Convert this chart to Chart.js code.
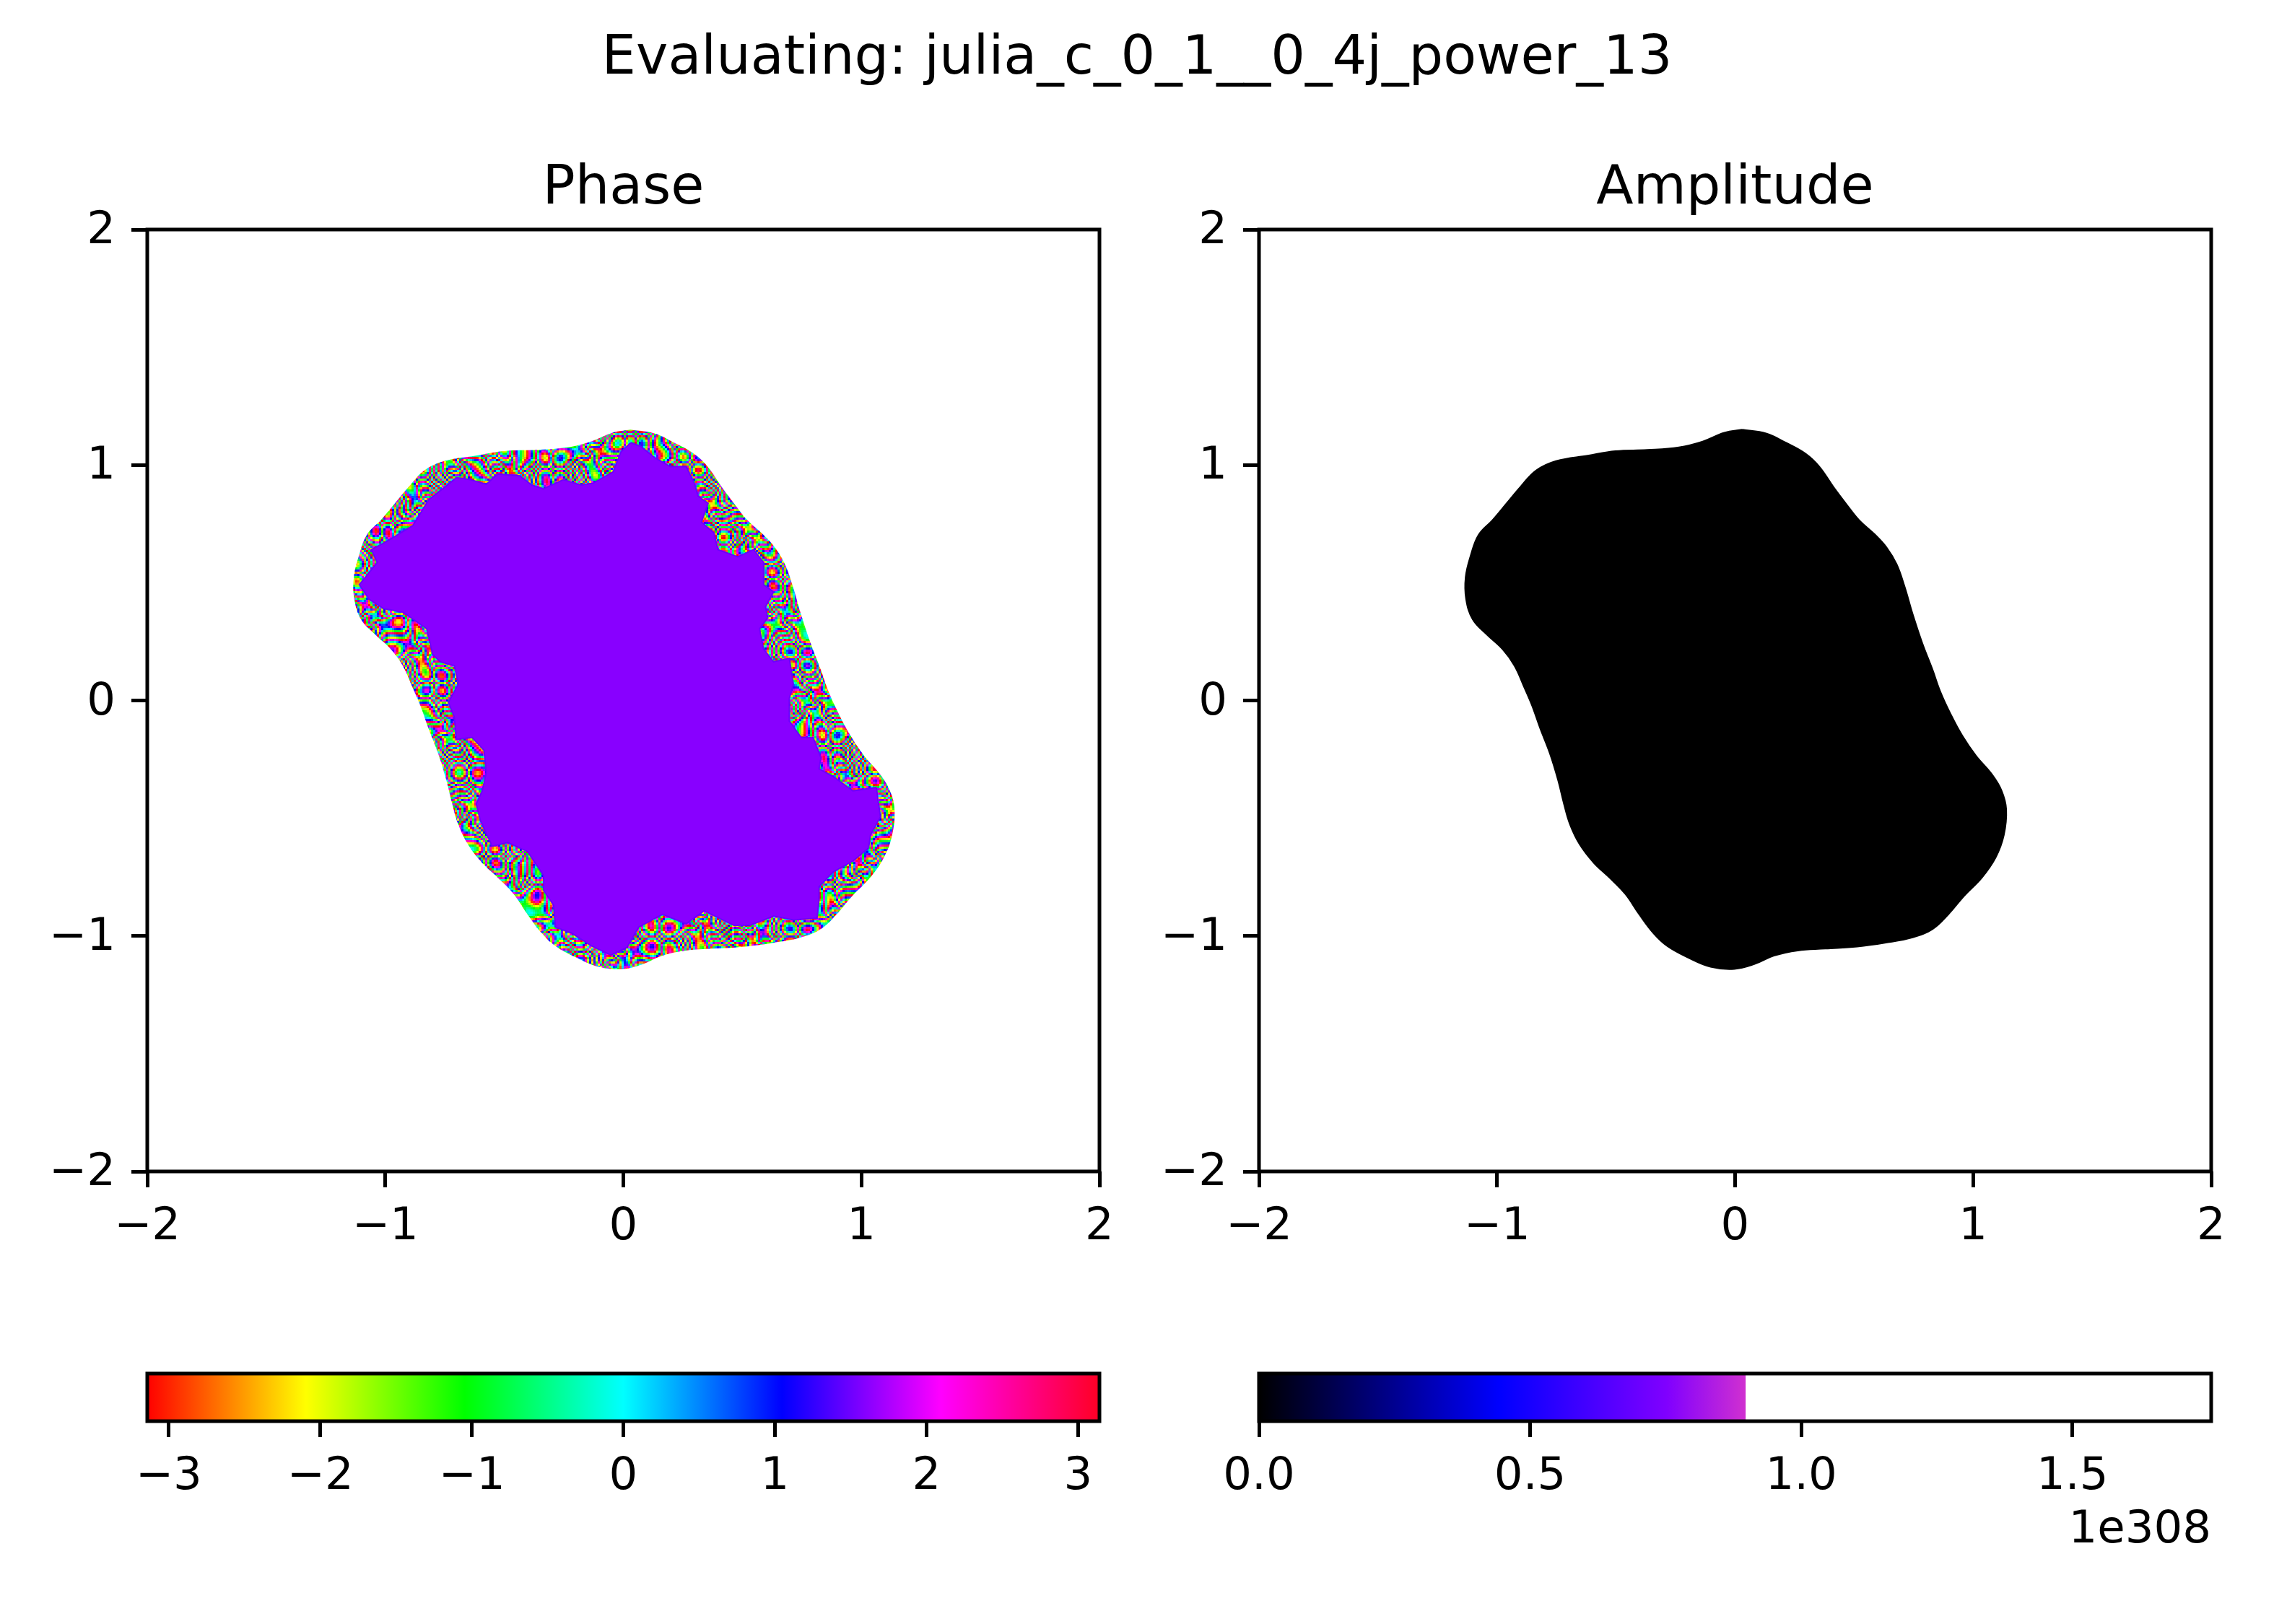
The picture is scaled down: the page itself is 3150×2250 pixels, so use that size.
<!DOCTYPE html>
<html>
<head>
<meta charset="utf-8">
<title>julia_c_0_1__0_4j_power_13</title>
<script src="https://cdn.jsdelivr.net/npm/chart.js@4"></script>
<style>
	html, body { margin: 0; padding: 0; background: #fff; }
	body { position: relative; width: 3150px; height: 2250px; overflow: hidden; }
	canvas { position: absolute; }
	#suptitle { position: absolute; left: 0; top: 31px; width: 3150px; text-align: center; font: 75px/90px "DejaVu Sans"; color: #000; }
</style>
</head>
<body>
<div id="suptitle">Evaluating: julia_c_0_1__0_4j_power_13</div>
<canvas id="phaseChart" width="1575" height="1760" style="left:0;top:0"></canvas>
<canvas id="ampChart" width="1575" height="1760" style="left:1575px;top:0"></canvas>
<canvas id="phaseBar" width="1575" height="450" style="left:0;top:1800px"></canvas>
<canvas id="ampBar" width="1575" height="450" style="left:1575px;top:1800px"></canvas>
<script>
// outline of the filled set
var edgeX = [0.030,0.130,0.213,0.296,0.354,0.413,0.471,0.521,0.588,0.637,0.679,0.712,0.746,0.787,0.829,0.862,0.904,0.954,1.012,1.079,1.120,1.139,1.129,1.095,1.037,0.962,0.896,0.829,0.746,0.629,0.513,0.379,0.263,0.163,0.080,-0.003,-0.103,-0.203,-0.286,-0.344,-0.403,-0.461,-0.528,-0.594,-0.653,-0.694,-0.719,-0.744,-0.777,-0.819,-0.852,-0.885,-0.927,-0.977,-1.044,-1.102,-1.130,-1.132,-1.110,-1.077,-1.019,-0.960,-0.902,-0.836,-0.752,-0.619,-0.503,-0.369,-0.236,-0.136,-0.045,0.030];
var edgeY = [1.150,1.134,1.095,1.048,0.993,0.907,0.829,0.766,0.704,0.649,0.578,0.484,0.367,0.242,0.132,0.038,-0.055,-0.149,-0.235,-0.314,-0.384,-0.462,-0.572,-0.666,-0.752,-0.830,-0.908,-0.971,-1.006,-1.029,-1.045,-1.054,-1.062,-1.084,-1.120,-1.140,-1.131,-1.089,-1.042,-0.987,-0.908,-0.822,-0.752,-0.689,-0.611,-0.525,-0.439,-0.337,-0.228,-0.118,-0.024,0.054,0.148,0.218,0.281,0.344,0.430,0.524,0.618,0.704,0.766,0.837,0.907,0.977,1.017,1.040,1.059,1.064,1.075,1.100,1.137,1.150];

// inside of the fractal rim (the flat purple part)
var coreX = [0.031,0.073,0.131,0.198,0.264,0.298,0.314,0.356,0.328,0.381,0.397,0.481,0.547,0.589,0.589,0.631,0.597,0.606,0.572,0.589,0.631,0.697,0.714,0.697,0.697,0.747,0.797,0.830,0.822,0.880,0.964,1.063,1.072,1.080,1.038,1.030,0.964,0.880,0.822,0.822,0.814,0.714,0.631,0.531,0.464,0.339,0.264,0.164,0.064,0.015,-0.052,-0.135,-0.219,-0.285,-0.293,-0.335,-0.335,-0.402,-0.485,-0.551,-0.601,-0.618,-0.593,-0.576,-0.585,-0.635,-0.701,-0.710,-0.735,-0.693,-0.710,-0.768,-0.801,-0.826,-0.926,-1.009,-1.068,-1.109,-1.034,-1.059,-1.001,-0.884,-0.818,-0.701,-0.643,-0.576,-0.527,-0.435,-0.385,-0.335,-0.252,-0.177,-0.127,-0.044,-0.010,0.031];
var coreY = [1.095,1.079,1.032,0.993,0.993,0.923,0.868,0.837,0.758,0.711,0.641,0.610,0.641,0.586,0.492,0.461,0.398,0.351,0.304,0.218,0.164,0.179,0.070,0.007,-0.087,-0.157,-0.157,-0.243,-0.290,-0.322,-0.384,-0.369,-0.439,-0.494,-0.572,-0.627,-0.682,-0.729,-0.791,-0.846,-0.924,-0.932,-0.916,-0.955,-0.955,-0.893,-0.948,-0.908,-0.963,-1.049,-1.081,-1.042,-0.987,-0.963,-0.869,-0.807,-0.744,-0.642,-0.603,-0.619,-0.509,-0.439,-0.384,-0.306,-0.212,-0.157,-0.165,-0.071,-0.008,0.070,0.148,0.164,0.195,0.305,0.375,0.391,0.430,0.492,0.586,0.641,0.672,0.743,0.852,0.946,0.938,0.918,0.962,0.954,0.915,0.899,0.938,0.915,0.923,0.970,1.056,1.095];

var axisTicks = [-2, -1, 0, 1, 2];
var phaseTicks = [-3, -2, -1, 0, 1, 2, 3];
var ampTicks = [0, 0.5, 1, 1.5];

var phaseRange = [-3.1416, 3.1416];
var ampRange = [0, 1.756];   // in units of 1e308
var ampFilled = [0, 0.897];  // above this the colour bar is white

var phaseStopValues = [-3.1416, -2.094, -1.047, 0, 1.047, 2.094, 3.1416];
var ampStopValues = [0, 0.443, 0.752, 0.897];

var phaseStopColors = ['#ff0000', '#ffff00', '#00ff00', '#00ffff', '#0000ff', '#ff00ff', '#ff0024'];
var ampStopColors = ['#000000', '#0000ff', '#8000ff', '#d030d0'];

var FONT = '"DejaVu Sans"';
var TICK = 62.5;

function toPoints(xs, ys) {
	var pts = [];
	for (var i in xs) {
		pts.push({x: xs[i], y: ys[i]});
	}
	return pts;
}

function minusSign(v) {
	return String(v).replace('-', '\u2212');
}

// stand in for the rim of the fractal: small cells of saturated hue, swirling
function rimPattern() {
	var cell = 3, n = 128;
	var c = document.createElement('canvas');
	c.width = c.height = cell * n;
	var g = c.getContext('2d');
	for (var i = 0; i < n; i++) {
		for (var j = 0; j < n; j++) {
			var a = 2 * Math.PI * i / n, b = 2 * Math.PI * j / n;
			var h = 16 * Math.sin(a) + 16 * Math.sin(b) + 7 * Math.sin(3 * a - b) + 6 * Math.cos(a + 3 * b);
			h = ((h % 1) + 1) % 1;
			g.fillStyle = 'hsl(' + Math.round(h * 360) + ',100%,50%)';
			g.fillRect(i * cell, j * cell, cell, cell);
		}
	}
	return g.createPattern(c, 'repeat');
}

var frame = {
	id: 'frame',
	beforeDraw: function(chart) {
		// matplotlib sits the y labels a little lower on their ticks
		var sy = chart.scales.y;
		if (sy.options.display && !chart.labelsMoved) {
			sy.getLabelItems().forEach(function(item) {
				item.options.translation[1] += 3;
			});
			chart.labelsMoved = true;
		}
	},
	afterDraw: function(chart) {
		var a = chart.chartArea, ctx = chart.ctx;
		ctx.save();
		ctx.strokeStyle = '#000';
		ctx.lineWidth = 5;
		ctx.strokeRect(a.left, a.top, a.right - a.left, a.bottom - a.top);
		ctx.restore();
	}
};

function tickAxis(values, fmt, pad) {
	return {
		type: 'linear',
		border: {display: false},
		grid: {drawOnChartArea: false, drawTicks: true, tickLength: 22, tickWidth: 5, tickColor: '#000'},
		ticks: {
			color: '#000',
			padding: pad,
			maxRotation: 0,
			autoSkip: false,
			font: {family: FONT, size: TICK},
			callback: fmt
		},
		afterBuildTicks: function(scale) {
			scale.ticks = values.map(function(v) { return {value: v}; });
		}
	};
}

function blob(points, fillStyle, line, tension, order) {
	return {
		data: points,
		showLine: true,
		fill: 'shape',
		backgroundColor: fillStyle,
		borderColor: line,
		borderWidth: 2,
		pointRadius: 0,
		tension: tension,
		order: order
	};
}

function mapChart(id, title, datasets, yWidth, padRight) {
	var x = tickAxis(axisTicks, minusSign, 18);
	var y = tickAxis(axisTicks, minusSign, 22);
	x.min = -2; x.max = 2;
	y.min = -2; y.max = 2;
	x.afterFit = function(s) { s.height = 1760 - 1623; };
	y.afterFit = function(s) { s.width = yWidth; };
	return new Chart(document.getElementById(id), {
		type: 'scatter',
		data: {datasets: datasets},
		plugins: [frame],
		options: {
			responsive: false,
			animation: false,
			devicePixelRatio: 1,
			layout: {padding: {top: 218, right: padRight, left: 0, bottom: 0}},
			scales: {x: x, y: y},
			plugins: {
				legend: {display: false},
				tooltip: {enabled: false},
				title: {
					display: true,
					fullSize: false,  // centre on the plot, not the canvas
					text: title,
					color: '#000',
					font: {family: FONT, size: 75, weight: 'normal', lineHeight: 1.2},
					padding: {top: 0, bottom: 10}
				}
			}
		}
	});
}

function barChart(id, range, span, stopValues, stopColors, ticks, fmt, padLeft, padRight, note) {
	var x = tickAxis(ticks, fmt, 18);
	x.min = range[0];
	x.max = range[1];
	x.afterFit = function(s) { s.height = 281; };
	if (note) {
		x.title = {
			display: true,
			text: note,
			align: 'end',
			color: '#000',
			font: {family: FONT, size: TICK},
			padding: {top: 0, bottom: 92}
		};
	}
	return new Chart(document.getElementById(id), {
		type: 'bar',
		data: {
			labels: [''],
			datasets: [{
				data: [span],
				barPercentage: 1,
				categoryPercentage: 1,
				borderWidth: 0,
				borderSkipped: false,
				backgroundColor: function(c) {
					var chart = c.chart;
					if (!chart.chartArea) {
						return '#000';
					}
					var sx = chart.scales.x;
					var from = sx.getPixelForValue(stopValues[0]);
					var to = sx.getPixelForValue(stopValues[stopValues.length - 1]);
					var g = chart.ctx.createLinearGradient(from, 0, to, 0);
					for (var i in stopValues) {
						g.addColorStop((stopValues[i] - stopValues[0]) / (stopValues[stopValues.length - 1] - stopValues[0]), stopColors[i]);
					}
					return g;
				}
			}]
		},
		plugins: [frame],
		options: {
			indexAxis: 'y',
			responsive: false,
			animation: false,
			devicePixelRatio: 1,
			layout: {padding: {top: 103, left: padLeft, right: padRight, bottom: 0}},
			scales: {
				x: x,
				y: {display: false}
			},
			plugins: {
				legend: {display: false},
				tooltip: {enabled: false}
			}
		}
	});
}

var edge = toPoints(edgeX, edgeY);
var core = toPoints(coreX, coreY);
var rim = rimPattern();

mapChart('phaseChart', 'Phase', [
	blob(core, '#8800ff', '#6a00ff', 0, 1),
	blob(edge, rim, 'rgba(0,0,0,0)', 0.4, 2)
], 204, 52);

mapChart('ampChart', 'Amplitude', [
	blob(edge, '#000000', '#000000', 0.4, 1)
], 169, 87);

barChart('phaseBar', phaseRange, phaseRange, phaseStopValues, phaseStopColors, phaseTicks, minusSign, 204, 52);

barChart('ampBar', ampRange, ampFilled, ampStopValues, ampStopColors, ampTicks, function(v) {
	return v.toFixed(1);
}, 169, 87, '1e308');
</script>
</body>
</html>
